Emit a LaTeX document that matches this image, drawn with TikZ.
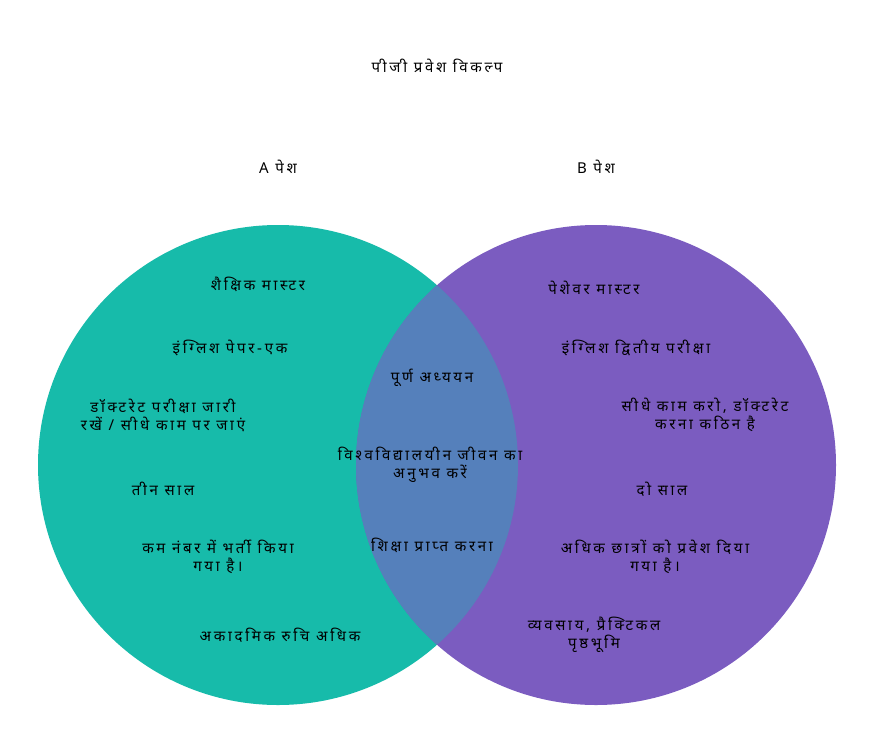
\documentclass[tikz,border=0pt]{standalone}
\usepackage{fontspec}
\newfontfamily\dev[Script=Devanagari,LetterSpace=18]{Noto Sans}
\definecolor{teal1}{HTML}{17BBAA}
\definecolor{purp1}{HTML}{7B5CC0}
\definecolor{mix1}{HTML}{5580BB}
\begin{document}
\begin{tikzpicture}[x=1pt,y=-1pt,every node/.style={font=\dev\fontsize{15}{18}\selectfont,align=center,text=black}]
\useasboundingbox (0,0) rectangle (873,742);
\fill[teal1] (278,465) circle (240);
\fill[purp1] (596,465) circle (240);
\begin{scope}
\clip (278,465) circle (240);
\fill[mix1] (596,465) circle (240);
\end{scope}
\node (t) at (437,66) {पीजी प्रवेश विकल्प};
\node (a) at (278,167) {A पेश};
\node (b) at (596,167) {B पेश};
\node (l1) at (258,284) {शैक्षिक मास्टर};
\node (l2) at (230,348) {इंग्लिश पेपर-एक};
\node (l3) at (163,415) {डॉक्टरेट परीक्षा जारी\\रखें / सीधे काम पर जाएं};
\node (l4) at (163,489) {तीन साल};
\node (l5) at (218,557) {कम नंबर में भर्ती किया\\गया है।};
\node (l6) at (280,635) {अकादमिक रुचि अधिक};
\node (m1) at (432,378) {पूर्ण अध्ययन};
\node (m2) at (430,465) {विश्वविद्यालयीन जीवन का\\अनुभव करें};
\node (m3) at (432,545) {शिक्षा प्राप्त करना};
\node (r1) at (594,288) {पेशेवर मास्टर};
\node (r2) at (636,348) {इंग्लिश द्वितीय परीक्षा};
\node (r3) at (705,415) {सीधे काम करो, डॉक्टरेट\\करना कठिन है};
\node (r4) at (662,489) {दो साल};
\node (r5) at (655,557) {अधिक छात्रों को प्रवेश दिया\\गया है।};
\node (r6) at (594,635) {व्यवसाय, प्रैक्टिकल\\पृष्ठभूमि};
\end{tikzpicture}
\end{document}
